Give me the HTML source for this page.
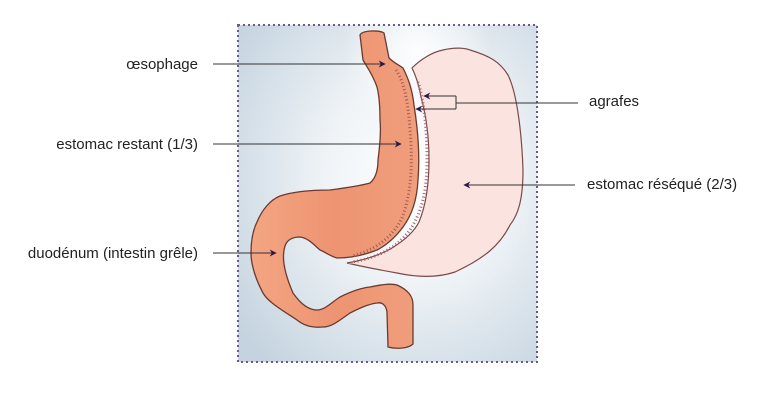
<!DOCTYPE html>
<html><head><meta charset="utf-8"><style>
html,body{margin:0;padding:0;background:#fff}
svg{display:block}
text{font-family:"Liberation Sans",Arial,sans-serif;font-size:15px;fill:#222}
</style></head><body>
<svg width="778" height="401" viewBox="0 0 778 401" xmlns="http://www.w3.org/2000/svg">
<defs>
<radialGradient id="bg" cx="0.6" cy="0.45" r="0.75">
<stop offset="0" stop-color="#ffffff"/>
<stop offset="0.4" stop-color="#f0f4f7"/>
<stop offset="1" stop-color="#c4d3df"/>
</radialGradient>
<radialGradient id="bg2" cx="0.6" cy="0.08" r="0.25">
<stop offset="0" stop-color="#ffffff" stop-opacity="0.9"/>
<stop offset="1" stop-color="#ffffff" stop-opacity="0"/>
</radialGradient>
<linearGradient id="org" x1="0" y1="0" x2="1" y2="0">
<stop offset="0" stop-color="#f3a582"/>
<stop offset="0.5" stop-color="#ee9472"/>
<stop offset="1" stop-color="#f09e7c"/>
</linearGradient>
<marker id="ah" viewBox="0 0 10 10" refX="9" refY="5" markerWidth="10" markerHeight="7" orient="auto" markerUnits="userSpaceOnUse">
<path d="M0,0 L10,5 L0,10 L3,5 Z" fill="#2e1a4a"/>
</marker>
</defs>
<rect x="238" y="25" width="299" height="337" fill="url(#bg)"/>
<rect x="238" y="25" width="299" height="337" fill="url(#bg2)"/>
<rect x="238" y="25" width="299" height="337" fill="none" stroke="#6a5a8a" stroke-width="2" stroke-dasharray="2 3"/>
<path d="M412,68 C420,60 432,52 443,50 C455,47 465,48 470,50 C490,56 500,62 508,75 C518,95 522,140 523,170 C523,200 518,215 510,225 C500,245 485,258 455,272 C440,277 420,278 397,273 C380,270 360,266 347,263 C365,260 380,255 392,248 C405,240 414,232 419,222 C426,205 429,185 429,160 C429,135 426,115 421,97 C419,85 416,76 412,68 Z" fill="#fbe3df" stroke="#7a4a4a" stroke-width="1.2"/>
<path d="M418,82 C424,100 427,130 427,160 C427,190 422,212 410,230 C395,250 375,258 352,262" fill="none" stroke="#a86068" stroke-width="3" stroke-dasharray="1 2.5"/>
<path d="M360,35 C362,30 380,30 384,33 L389,58 C394,63 399,65 403,68 C408,78 412,88 414,105 C418,130 420,155 418,180 C417,200 412,215 403,227 C395,238 385,246 377,250 C362,256 350,258 337,258 C330,256 325,252 320,250 C313,244 308,238 300,237 C292,237 287,240 285,246 C282,255 283,270 293,293 C300,303 308,310 317,310 C325,310 332,302 340,297 C350,292 360,288 370,287 C380,285 390,283 397,285 C408,290 413,296 413,305 L413,344 C408,349 395,349 388,347 L387,312 C386,305 382,302 377,303 C368,304 358,309 350,313 C340,320 332,327 323,327 C312,328 303,325 297,320 C282,310 268,302 263,293 C256,280 251,265 251,253 C251,240 253,230 257,222 C262,210 270,200 280,196 C295,191 315,190 330,190 C345,188 360,186 370,183 C376,178 378,170 378,160 C380,145 381,130 380,120 C380,105 379,95 377,87 C373,75 367,67 363,60 Z" fill="url(#org)" stroke="#6a3a30" stroke-width="1.3"/>
<path d="M396,70 C404,82 408,100 410,130 C413,165 411,195 402,218 C392,238 375,250 352,256" fill="none" stroke="#a05a50" stroke-width="3" stroke-dasharray="1 2.5"/>
<g stroke="#333" stroke-width="1" fill="none">
<line x1="213" y1="64" x2="385" y2="64" marker-end="url(#ah)"/>
<line x1="213" y1="144" x2="401" y2="144" marker-end="url(#ah)"/>
<line x1="213" y1="253" x2="276" y2="253" marker-end="url(#ah)"/>
<line x1="575" y1="185" x2="464" y2="185" marker-end="url(#ah)"/>
<line x1="578" y1="103" x2="456" y2="103"/>
<polyline points="456,96 456,109"/>
<line x1="456" y1="96" x2="424" y2="96" marker-end="url(#ah)"/>
<line x1="456" y1="109" x2="416" y2="109" marker-end="url(#ah)"/>
</g>
<text x="198" y="69" text-anchor="end">œsophage</text>
<text x="198" y="149" text-anchor="end">estomac restant (1/3)</text>
<text x="198" y="258" text-anchor="end">duodénum (intestin grêle)</text>
<text x="589" y="106">agrafes</text>
<text x="587" y="189">estomac réséqué (2/3)</text>
</svg>
</body></html>
